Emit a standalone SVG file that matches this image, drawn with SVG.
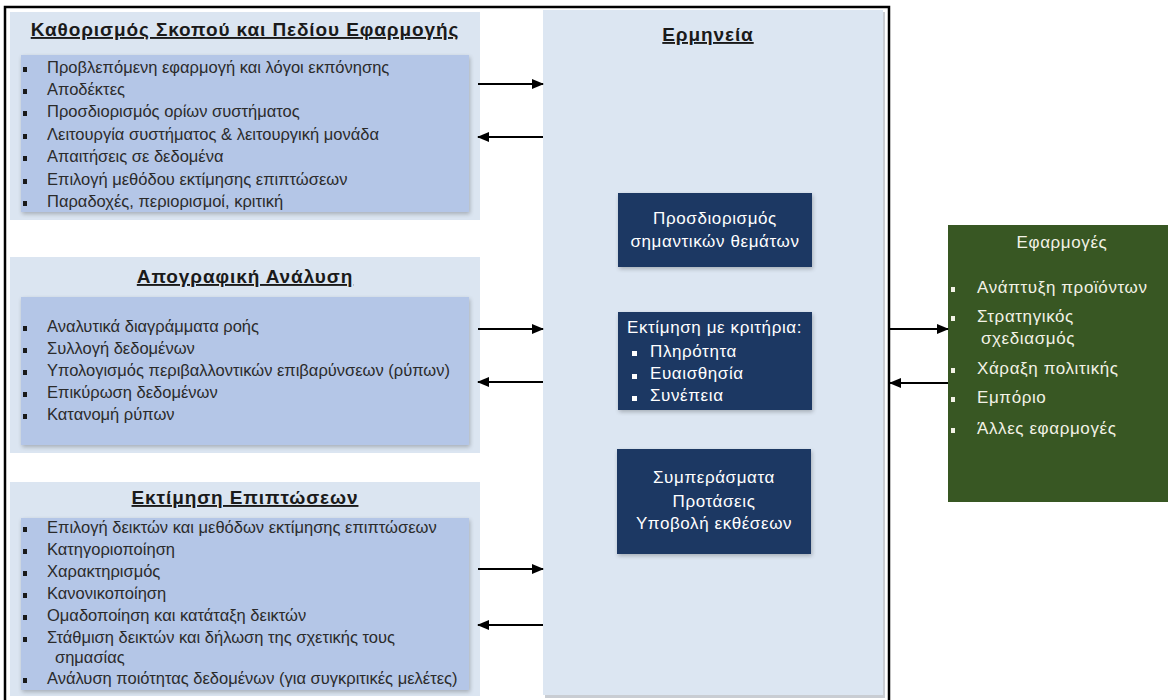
<svg xmlns="http://www.w3.org/2000/svg" width="1174" height="700" viewBox="0 0 1174 700">
<defs>
<marker id="ah" viewBox="0 0 12 10" refX="11" refY="5" markerWidth="12" markerHeight="10" markerUnits="userSpaceOnUse" orient="auto">
<path d="M0,0 L12,5 L0,10 Z" fill="#000"/>
</marker>
<filter id="sh" x="-5%" y="-5%" width="110%" height="115%">
<feGaussianBlur in="SourceAlpha" stdDeviation="2"/>
<feOffset dx="1" dy="2"/>
<feComponentTransfer><feFuncA type="linear" slope="0.25"/></feComponentTransfer>
<feMerge><feMergeNode/><feMergeNode in="SourceGraphic"/></feMerge>
</filter>
</defs>
<style>
.outer{fill:#dbe5f1}
.inner{fill:#b4c6e7}
.mid{fill:#dce6f2}
.dark{fill:#1f3864}
.green{fill:#385723}
.title{font-family:"Liberation Sans",Arial,sans-serif;font-weight:bold;font-size:19px;letter-spacing:0.9px;fill:#1a1a1a;text-decoration:underline;text-anchor:middle}
.item{font-family:"Liberation Sans",Arial,sans-serif;font-size:16.5px;fill:#2b2b2b}
.bul{fill:#1a1a1a}
.wt{font-family:"Liberation Sans",Arial,sans-serif;font-size:17px;fill:#ffffff;letter-spacing:0.6px}
.wtc{text-anchor:middle}
.gt{font-family:"Liberation Sans",Arial,sans-serif;font-size:17px;fill:#f2f2e6;letter-spacing:0.6px}
.wbul{fill:#ffffff}
.conn{stroke:#000;stroke-width:2;fill:none;marker-end:url(#ah)}
</style>

<g id="goal-scope">
<rect class="outer" x="10" y="12" width="470" height="208"/>
<rect class="inner" x="21" y="55" width="448" height="157" filter="url(#sh)"/>
<text class="title" x="245" y="36">Καθορισμός Σκοπού και Πεδίου Εφαρμογής</text>
<g class="bul">
<rect x="23" y="67" width="4" height="5"/>
<rect x="23" y="89" width="4" height="5"/>
<rect x="23" y="111" width="4" height="5"/>
<rect x="23" y="134" width="4" height="5"/>
<rect x="23" y="156" width="4" height="5"/>
<rect x="23" y="179" width="4" height="5"/>
<rect x="23" y="201" width="4" height="5"/>
</g>
<text class="item" x="47" y="73">Προβλεπόμενη εφαρμογή και λόγοι εκπόνησης</text>
<text class="item" x="47" y="95">Αποδέκτες</text>
<text class="item" x="47" y="117">Προσδιορισμός ορίων συστήματος</text>
<text class="item" x="47" y="140">Λειτουργία συστήματος &amp; λειτουργική μονάδα</text>
<text class="item" x="47" y="162">Απαιτήσεις σε δεδομένα</text>
<text class="item" x="47" y="185">Επιλογή μεθόδου εκτίμησης επιπτώσεων</text>
<text class="item" x="47" y="207">Παραδοχές, περιορισμοί, κριτική</text>
</g>

<g id="inventory">
<rect class="outer" x="10" y="257" width="470" height="196"/>
<rect class="inner" x="21" y="297" width="448" height="148" filter="url(#sh)"/>
<text class="title" x="245" y="283">Απογραφική Ανάλυση</text>
<g class="bul">
<rect x="23" y="326" width="4" height="5"/>
<rect x="23" y="348" width="4" height="5"/>
<rect x="23" y="370" width="4" height="5"/>
<rect x="23" y="392" width="4" height="5"/>
<rect x="23" y="414" width="4" height="5"/>
</g>
<text class="item" x="47" y="332">Αναλυτικά διαγράμματα ροής</text>
<text class="item" x="47" y="354">Συλλογή δεδομένων</text>
<text class="item" x="47" y="376">Υπολογισμός περιβαλλοντικών επιβαρύνσεων (ρύπων)</text>
<text class="item" x="47" y="398">Επικύρωση δεδομένων</text>
<text class="item" x="47" y="420">Κατανομή ρύπων</text>
</g>

<g id="impact">
<rect class="outer" x="10" y="482" width="470" height="214"/>
<rect class="inner" x="21" y="518" width="448" height="172" filter="url(#sh)"/>
<text class="title" x="245" y="504">Εκτίμηση Επιπτώσεων</text>
<g class="bul">
<rect x="23" y="527" width="4" height="5"/>
<rect x="23" y="549" width="4" height="5"/>
<rect x="23" y="571" width="4" height="5"/>
<rect x="23" y="593" width="4" height="5"/>
<rect x="23" y="615" width="4" height="5"/>
<rect x="23" y="637" width="4" height="5"/>
<rect x="23" y="678" width="4" height="5"/>
</g>
<text class="item" x="47" y="533">Επιλογή δεικτών και μεθόδων εκτίμησης επιπτώσεων</text>
<text class="item" x="47" y="555">Κατηγοριοποίηση</text>
<text class="item" x="47" y="577">Χαρακτηρισμός</text>
<text class="item" x="47" y="599">Κανονικοποίηση</text>
<text class="item" x="47" y="621">Ομαδοποίηση και κατάταξη δεικτών</text>
<text class="item" x="47" y="643">Στάθμιση δεικτών και δήλωση της σχετικής τους</text>
<text class="item" x="55" y="663">σημασίας</text>
<text class="item" x="47" y="684">Ανάλυση ποιότητας δεδομένων (για συγκριτικές μελέτες)</text>
</g>

<g id="interpretation">
<rect x="545" y="12" width="340" height="686" fill="#c9cdd3"/>
<rect class="mid" x="543" y="10" width="340" height="685"/>
<text class="title" x="708" y="41">Ερμηνεία</text>
</g>

<g id="significant-issues">
<rect class="dark" x="618" y="193" width="194" height="74" filter="url(#sh)"/>
<text class="wt wtc" x="715" y="224">Προσδιορισμός</text>
<text class="wt wtc" x="715" y="247">σημαντικών θεμάτων</text>
</g>

<g id="evaluation">
<rect class="dark" x="618" y="312" width="194" height="98" filter="url(#sh)"/>
<text class="wt" x="627" y="333">Εκτίμηση με κριτήρια:</text>
<g class="wbul">
<rect x="632" y="351" width="5" height="5"/>
<rect x="632" y="374" width="5" height="5"/>
<rect x="632" y="396" width="5" height="5"/>
</g>
<text class="wt" x="650" y="357">Πληρότητα</text>
<text class="wt" x="650" y="379">Ευαισθησία</text>
<text class="wt" x="650" y="401">Συνέπεια</text>
</g>

<g id="conclusions">
<rect class="dark" x="617" y="449" width="194" height="105" filter="url(#sh)"/>
<text class="wt wtc" x="714" y="483">Συμπεράσματα</text>
<text class="wt wtc" x="714" y="507">Προτάσεις</text>
<text class="wt wtc" x="714" y="529">Υποβολή εκθέσεων</text>
</g>

<g id="applications">
<rect class="green" x="948" y="225" width="220" height="277"/>
<text class="gt" x="1062" y="248" text-anchor="middle">Εφαρμογές</text>
<g fill="#f2f2e6">
<rect x="951" y="287" width="4" height="5"/>
<rect x="951" y="316" width="4" height="5"/>
<rect x="951" y="368" width="4" height="5"/>
<rect x="951" y="397" width="4" height="5"/>
<rect x="951" y="428" width="4" height="5"/>
</g>
<text class="gt" x="977" y="293">Ανάπτυξη προϊόντων</text>
<text class="gt" x="977" y="322">Στρατηγικός</text>
<text class="gt" x="981" y="344">σχεδιασμός</text>
<text class="gt" x="977" y="374">Χάραξη πολιτικής</text>
<text class="gt" x="977" y="403">Εμπόριο</text>
<text class="gt" x="977" y="434">Άλλες εφαρμογές</text>
</g>

<rect id="frame" x="5" y="7" width="884" height="710" fill="none" stroke="#000" stroke-width="2.5"/>

<g id="connectors">
<line class="conn" x1="478" y1="84" x2="543" y2="84"/>
<line class="conn" x1="543" y1="137" x2="478" y2="137"/>
<line class="conn" x1="478" y1="329" x2="543" y2="329"/>
<line class="conn" x1="543" y1="382" x2="478" y2="382"/>
<line class="conn" x1="478" y1="569" x2="543" y2="569"/>
<line class="conn" x1="543" y1="625" x2="478" y2="625"/>
<line class="conn" x1="890" y1="329" x2="948" y2="329"/>
<line class="conn" x1="948" y1="383" x2="890" y2="383"/>
</g>
</svg>
